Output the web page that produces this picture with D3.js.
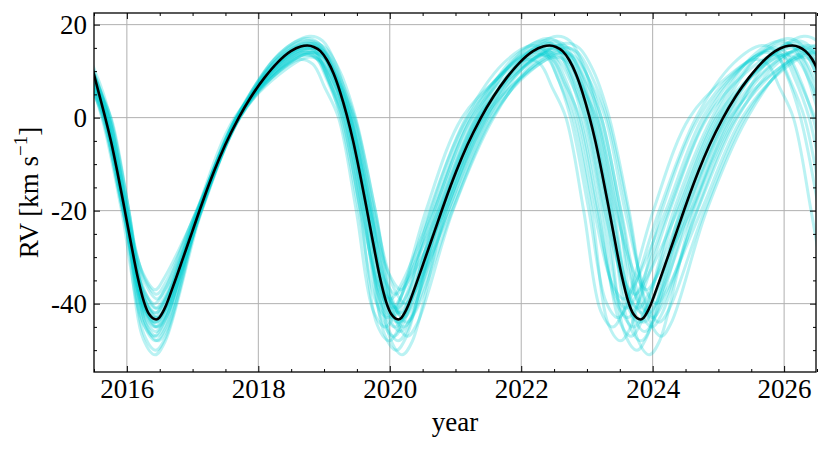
<!DOCTYPE html>
<html>
<head>
<meta charset="utf-8">
<script src="https://cdn.jsdelivr.net/npm/d3@7"></script>
<style>
  body { margin: 0; background: #fff; }
  text { font-family: "Liberation Serif", "Times New Roman", serif; }
</style>
</head>
<body>
<svg id="chart" width="830" height="450"></svg>
<script>
// tick labels
const xTicks = [2016, 2018, 2020, 2022, 2024, 2026];
const yTicks = [-40, -20, 0, 20];
const xLabel = 'year';

// best-fit orbit [year, RV km/s]
const bestFit = [
  [2015.46, 11.4], [2015.56, 6.0], [2015.66, 0.6], [2015.76, -5.2], [2015.86, -12.0], [2015.96, -19.3],
  [2016.06, -26.8], [2016.16, -34.0], [2016.26, -39.6], [2016.34, -42.3], [2016.445, -43.4],
  [2016.495, -43.0], [2016.545, -41.9], [2016.595, -40.4], [2016.695, -36.6], [2016.845, -30.6], [2016.995, -24.5],
  [2017.145, -18.4], [2017.325, -11.6], [2017.495, -5.9], [2017.695, -0.2], [2017.895, 4.6], [2018.095, 8.6],
  [2018.295, 11.9], [2018.495, 14.3], [2018.645, 15.3], [2018.745, 15.5],
  [2018.845, 15.2], [2018.945, 14.3], [2019.045, 12.4], [2019.145, 9.5], [2019.245, 5.5], [2019.345, 0.6],
  [2019.445, -5.2], [2019.545, -12.0], [2019.645, -19.3], [2019.745, -26.8], [2019.845, -34.0], [2019.945, -39.6],
  [2020.025, -42.3], [2020.13, -43.4],
  [2020.18, -43.0], [2020.23, -41.9], [2020.28, -40.4], [2020.38, -36.6], [2020.53, -30.6], [2020.68, -24.5],
  [2020.83, -18.4], [2021.01, -11.6], [2021.18, -5.9], [2021.38, -0.2], [2021.58, 4.6], [2021.78, 8.6],
  [2021.98, 11.9], [2022.18, 14.3], [2022.33, 15.3], [2022.43, 15.5],
  [2022.53, 15.2], [2022.63, 14.3], [2022.73, 12.4], [2022.83, 9.5], [2022.93, 5.5], [2023.03, 0.6],
  [2023.13, -5.2], [2023.23, -12.0], [2023.33, -19.3], [2023.43, -26.8], [2023.53, -34.0], [2023.63, -39.6],
  [2023.71, -42.3], [2023.815, -43.4],
  [2023.865, -43.0], [2023.915, -41.9], [2023.965, -40.4], [2024.065, -36.6], [2024.215, -30.6], [2024.365, -24.5],
  [2024.515, -18.4], [2024.695, -11.6], [2024.865, -5.9], [2025.065, -0.2], [2025.265, 4.6], [2025.465, 8.6],
  [2025.665, 11.9], [2025.865, 14.3], [2026.015, 15.3], [2026.125, 15.5],
  [2026.225, 15.2], [2026.325, 14.3], [2026.425, 12.6], [2026.525, 9.8]
];

// posterior draws (cyan), key points
const draw01 = [
  [2015.17, 12.5], [2015.37, 11.5], [2015.55, 6.5], [2015.76, 0], [2016.03, -20], [2016.29, -41.6], [2016.47, -45],
  [2016.62, -42.2], [2017.07, -20], [2017.64, 0], [2018.21, 8.7], [2018.63, 12.5],
  [2018.83, 11.5], [2019.01, 6.5], [2019.22, 0], [2019.49, -20], [2019.75, -41.6], [2019.93, -45],
  [2020.08, -42.2], [2020.55, -20], [2021.10, 0], [2021.67, 8.7], [2022.09, 12.5],
  [2022.29, 11.5], [2022.47, 6.5], [2022.68, 0], [2022.95, -20], [2023.21, -41.6], [2023.39, -45],
  [2023.54, -42.2], [2024.01, -20], [2024.56, 0], [2025.13, 8.7], [2025.55, 12.5],
  [2025.75, 11.5], [2025.93, 6.5], [2026.14, 0], [2026.41, -20], [2026.67, -41.6]
];
const draw02 = [
  [2015.15, 14], [2015.35, 13], [2015.53, 8], [2015.75, 0], [2016.03, -20], [2016.29, -44.6], [2016.47, -48],
  [2016.62, -45.2], [2017.12, -20], [2017.66, 0], [2018.24, 10.2], [2018.67, 14],
  [2018.87, 13], [2019.05, 8], [2019.27, 0], [2019.55, -20], [2019.81, -44.6], [2019.99, -48],
  [2020.14, -45.2], [2020.62, -20], [2021.18, 0], [2021.76, 10.2], [2022.19, 14],
  [2022.39, 13], [2022.57, 8], [2022.79, 0], [2023.07, -20], [2023.33, -44.6], [2023.51, -48],
  [2023.66, -45.2], [2024.14, -20], [2024.70, 0], [2025.28, 10.2], [2025.71, 14],
  [2025.91, 13], [2026.09, 8], [2026.31, 0], [2026.59, -20]
];
const draw03 = [
  [2015.12, 15], [2015.32, 14], [2015.51, 9], [2015.73, 0], [2016.01, -20], [2016.28, -37.6], [2016.46, -41],
  [2016.61, -38.2], [2017.08, -20], [2017.67, 0], [2018.25, 11.2], [2018.69, 15],
  [2018.89, 14], [2019.08, 9], [2019.30, 0], [2019.58, -20], [2019.85, -37.6], [2020.03, -41],
  [2020.18, -38.2], [2020.67, -20], [2021.24, 0], [2021.82, 11.2], [2022.26, 15],
  [2022.46, 14], [2022.65, 9], [2022.87, 0], [2023.15, -20], [2023.42, -37.6], [2023.60, -41],
  [2023.75, -38.2], [2024.24, -20], [2024.81, 0], [2025.39, 11.2], [2025.83, 15],
  [2026.03, 14], [2026.22, 9], [2026.44, 0], [2026.72, -20]
];
const draw04 = [
  [2015.09, 16.5], [2015.29, 15.5], [2015.48, 10.5], [2015.71, 0], [2015.99, -20], [2016.27, -43.6], [2016.45, -47],
  [2016.60, -44.2], [2017.13, -20], [2017.68, 0], [2018.26, 12.7], [2018.70, 16.5],
  [2018.90, 15.5], [2019.09, 10.5], [2019.32, 0], [2019.60, -20], [2019.88, -43.6], [2020.06, -47],
  [2020.21, -44.2], [2020.71, -20], [2021.29, 0], [2021.87, 12.7], [2022.31, 16.5],
  [2022.51, 15.5], [2022.70, 10.5], [2022.93, 0], [2023.21, -20], [2023.49, -43.6], [2023.67, -47],
  [2023.82, -44.2], [2024.32, -20], [2024.90, 0], [2025.48, 12.7], [2025.92, 16.5],
  [2026.12, 15.5], [2026.31, 10.5], [2026.54, 0]
];
const draw05 = [
  [2015.08, 13.5], [2015.28, 12.5], [2015.48, 7.5], [2015.70, 0], [2015.99, -20], [2016.27, -34.6], [2016.45, -38],
  [2016.60, -35.2], [2017.06, -20], [2017.69, 0], [2018.28, 9.7], [2018.72, 13.5],
  [2018.92, 12.5], [2019.12, 7.5], [2019.34, 0], [2019.63, -20], [2019.91, -34.6], [2020.09, -38],
  [2020.24, -35.2], [2020.74, -20], [2021.33, 0], [2021.92, 9.7], [2022.36, 13.5],
  [2022.56, 12.5], [2022.76, 7.5], [2022.98, 0], [2023.27, -20], [2023.55, -34.6], [2023.73, -38],
  [2023.88, -35.2], [2024.38, -20], [2024.97, 0], [2025.56, 9.7], [2026.00, 13.5],
  [2026.20, 12.5], [2026.40, 7.5], [2026.62, 0]
];
const draw06 = [
  [2015.06, 17], [2015.26, 16], [2015.46, 11], [2015.69, 0], [2015.98, -20], [2016.26, -46.6], [2016.44, -50],
  [2016.59, -47.2], [2017.12, -20], [2017.68, 0], [2018.28, 13.2], [2018.72, 17],
  [2018.92, 16], [2019.12, 11], [2019.35, 0], [2019.64, -20], [2019.92, -46.6], [2020.10, -50],
  [2020.25, -47.2], [2020.76, -20], [2021.34, 0], [2021.94, 13.2], [2022.38, 17],
  [2022.58, 16], [2022.78, 11], [2023.01, 0], [2023.30, -20], [2023.58, -46.6], [2023.76, -50],
  [2023.91, -47.2], [2024.42, -20], [2025.00, 0], [2025.60, 13.2], [2026.04, 17],
  [2026.24, 16], [2026.44, 11], [2026.67, 0]
];
const draw07 = [
  [2015.06, 15], [2015.26, 14], [2015.46, 9], [2015.69, 0], [2015.98, -20], [2016.26, -40.6], [2016.44, -44],
  [2016.59, -41.2], [2017.09, -20], [2017.69, 0], [2018.29, 11.2], [2018.74, 15],
  [2018.94, 14], [2019.14, 9], [2019.37, 0], [2019.66, -20], [2019.94, -40.6], [2020.12, -44],
  [2020.27, -41.2], [2020.78, -20], [2021.37, 0], [2021.97, 11.2], [2022.42, 15],
  [2022.62, 14], [2022.82, 9], [2023.05, 0], [2023.34, -20], [2023.62, -40.6], [2023.80, -44],
  [2023.95, -41.2], [2024.46, -20], [2025.05, 0], [2025.65, 11.2], [2026.10, 15],
  [2026.30, 14], [2026.50, 9]
];
const draw08 = [
  [2015.05, 16], [2015.25, 15], [2015.45, 10], [2015.68, 0], [2015.97, -20], [2016.26, -38.6], [2016.44, -42],
  [2016.59, -39.2], [2017.11, -20], [2017.70, 0], [2018.30, 12.2], [2018.75, 16],
  [2018.95, 15], [2019.15, 10], [2019.38, 0], [2019.67, -20], [2019.96, -38.6], [2020.14, -42],
  [2020.29, -39.2], [2020.80, -20], [2021.40, 0], [2022.00, 12.2], [2022.45, 16],
  [2022.65, 15], [2022.85, 10], [2023.08, 0], [2023.37, -20], [2023.66, -38.6], [2023.84, -42],
  [2023.99, -39.2], [2024.50, -20], [2025.10, 0], [2025.70, 12.2], [2026.15, 16],
  [2026.35, 15], [2026.55, 10]
];
const draw09 = [
  [2015.04, 14.5], [2015.24, 13.5], [2015.45, 8.5], [2015.68, 0], [2015.97, -20], [2016.26, -42.6], [2016.44, -46],
  [2016.59, -43.2], [2017.13, -20], [2017.70, 0], [2018.31, 10.7], [2018.76, 14.5],
  [2018.96, 13.5], [2019.17, 8.5], [2019.40, 0], [2019.69, -20], [2019.98, -42.6], [2020.16, -46],
  [2020.31, -43.2], [2020.83, -20], [2021.42, 0], [2022.03, 10.7], [2022.48, 14.5],
  [2022.68, 13.5], [2022.89, 8.5], [2023.12, 0], [2023.41, -20], [2023.70, -42.6], [2023.88, -46],
  [2024.03, -43.2], [2024.55, -20], [2025.14, 0], [2025.75, 10.7], [2026.20, 14.5],
  [2026.40, 13.5], [2026.61, 8.5]
];
const draw10 = [
  [2015.02, 13], [2015.22, 12], [2015.43, 7], [2015.66, 0], [2015.96, -20], [2016.25, -33.6], [2016.43, -37],
  [2016.58, -34.2], [2017.07, -20], [2017.70, 0], [2018.31, 9.2], [2018.76, 13],
  [2018.96, 12], [2019.17, 7], [2019.40, 0], [2019.70, -20], [2019.99, -33.6], [2020.17, -37],
  [2020.32, -34.2], [2020.84, -20], [2021.44, 0], [2022.05, 9.2], [2022.50, 13],
  [2022.70, 12], [2022.91, 7], [2023.14, 0], [2023.44, -20], [2023.73, -33.6], [2023.91, -37],
  [2024.06, -34.2], [2024.58, -20], [2025.18, 0], [2025.79, 9.2], [2026.24, 13],
  [2026.44, 12], [2026.65, 7]
];
const draw11 = [
  [2015.02, 17.5], [2015.22, 16.5], [2015.42, 11.5], [2015.66, 0], [2015.96, -20], [2016.25, -47.6], [2016.43, -51],
  [2016.58, -48.2], [2017.14, -20], [2017.71, 0], [2018.32, 13.7], [2018.78, 17.5],
  [2018.98, 16.5], [2019.18, 11.5], [2019.42, 0], [2019.72, -20], [2020.01, -47.6], [2020.19, -51],
  [2020.34, -48.2], [2020.86, -20], [2021.47, 0], [2022.08, 13.7], [2022.54, 17.5],
  [2022.74, 16.5], [2022.94, 11.5], [2023.18, 0], [2023.48, -20], [2023.77, -47.6], [2023.95, -51],
  [2024.10, -48.2], [2024.62, -20], [2025.23, 0], [2025.84, 13.7], [2026.30, 17.5],
  [2026.50, 16.5], [2026.70, 11.5]
];
const draw12 = [
  [2015.00, 15.5], [2015.20, 14.5], [2015.41, 9.5], [2015.64, 0], [2015.94, -20], [2016.24, -39.6], [2016.42, -43],
  [2016.57, -40.2], [2017.09, -20], [2017.71, 0], [2018.32, 11.7], [2018.78, 15.5],
  [2018.99, 14.5], [2019.20, 9.5], [2019.43, 0], [2019.73, -20], [2020.03, -39.6], [2020.21, -43],
  [2020.36, -40.2], [2020.89, -20], [2021.50, 0], [2022.11, 11.7], [2022.57, 15.5],
  [2022.78, 14.5], [2022.99, 9.5], [2023.22, 0], [2023.52, -20], [2023.82, -39.6], [2024.00, -43],
  [2024.15, -40.2], [2024.68, -20], [2025.29, 0], [2025.90, 11.7], [2026.36, 15.5],
  [2026.58, 14.5]
];
const draw13 = [
  [2014.98, 14], [2015.18, 13], [2015.40, 8], [2015.64, 0], [2015.94, -20], [2016.24, -36.6], [2016.42, -40],
  [2016.57, -37.2], [2017.06, -20], [2017.72, 0], [2018.34, 10.2], [2018.81, 14],
  [2019.00, 13], [2019.22, 8], [2019.46, 0], [2019.76, -20], [2020.06, -36.6], [2020.24, -40],
  [2020.39, -37.2], [2020.92, -20], [2021.54, 0], [2022.16, 10.2], [2022.63, 14],
  [2022.82, 13], [2023.04, 8], [2023.28, 0], [2023.58, -20], [2023.88, -36.6], [2024.06, -40],
  [2024.21, -37.2], [2024.74, -20], [2025.36, 0], [2025.98, 10.2], [2026.45, 14],
  [2026.64, 13]
];
const draw14 = [
  [2014.96, 16], [2015.16, 15], [2015.38, 10], [2015.62, 0], [2015.92, -20], [2016.23, -43.6], [2016.41, -47],
  [2016.56, -44.2], [2017.12, -20], [2017.72, 0], [2018.35, 12.2], [2018.82, 16],
  [2019.02, 15], [2019.24, 10], [2019.48, 0], [2019.78, -20], [2020.09, -43.6], [2020.27, -47],
  [2020.42, -44.2], [2020.96, -20], [2021.58, 0], [2022.21, 12.2], [2022.68, 16],
  [2022.88, 15], [2023.10, 10], [2023.34, 0], [2023.64, -20], [2023.95, -43.6], [2024.13, -47],
  [2024.28, -44.2], [2024.82, -20], [2025.44, 0], [2026.07, 12.2], [2026.54, 16]
];
const draw15 = [
  [2015.15, 15.5], [2015.35, 14.5], [2015.53, 9.5], [2015.75, 0], [2016.03, -20], [2016.29, -39.6], [2016.47, -43],
  [2016.62, -40.2], [2017.08, -20], [2017.66, 0], [2018.23, 11.7], [2018.66, 15.5],
  [2018.85, 14.5], [2019.03, 9.5], [2019.25, 0], [2019.53, -20], [2019.79, -39.6], [2019.97, -43],
  [2020.12, -40.2], [2020.60, -20], [2021.16, 0], [2021.73, 11.7], [2022.16, 15.5],
  [2022.35, 14.5], [2022.53, 9.5], [2022.75, 0], [2023.03, -20], [2023.29, -39.6], [2023.47, -43],
  [2023.62, -40.2], [2024.10, -20], [2024.66, 0], [2025.23, 11.7], [2025.66, 15.5],
  [2025.85, 14.5], [2026.03, 9.5], [2026.25, 0], [2026.53, -20]
];
const draw16 = [
  [2015.13, 14.5], [2015.33, 13.5], [2015.51, 8.5], [2015.73, 0], [2016.01, -20], [2016.28, -35.6], [2016.46, -39],
  [2016.61, -36.2], [2017.11, -20], [2017.66, 0], [2018.24, 10.7], [2018.67, 14.5],
  [2018.88, 13.5], [2019.06, 8.5], [2019.28, 0], [2019.56, -20], [2019.83, -35.6], [2020.01, -39],
  [2020.16, -36.2], [2020.65, -20], [2021.21, 0], [2021.79, 10.7], [2022.22, 14.5],
  [2022.43, 13.5], [2022.61, 8.5], [2022.83, 0], [2023.11, -20], [2023.38, -35.6], [2023.56, -39],
  [2023.71, -36.2], [2024.20, -20], [2024.76, 0], [2025.34, 10.7], [2025.77, 14.5],
  [2025.98, 13.5], [2026.16, 8.5], [2026.38, 0], [2026.66, -20]
];
const draw17 = [
  [2015.09, 16], [2015.29, 15], [2015.48, 10], [2015.71, 0], [2015.99, -20], [2016.27, -41.6], [2016.45, -45],
  [2016.60, -42.2], [2017.13, -20], [2017.68, 0], [2018.27, 12.2], [2018.72, 16],
  [2018.92, 15], [2019.11, 10], [2019.34, 0], [2019.62, -20], [2019.90, -41.6], [2020.08, -45],
  [2020.23, -42.2], [2020.73, -20], [2021.31, 0], [2021.90, 12.2], [2022.35, 16],
  [2022.55, 15], [2022.74, 10], [2022.97, 0], [2023.25, -20], [2023.53, -41.6], [2023.71, -45],
  [2023.86, -42.2], [2024.36, -20], [2024.94, 0], [2025.53, 12.2], [2025.98, 16],
  [2026.18, 15], [2026.37, 10], [2026.60, 0]
];
const draw18 = [
  [2015.06, 14], [2015.26, 13], [2015.46, 8], [2015.69, 0], [2015.98, -20], [2016.26, -37.6], [2016.44, -41],
  [2016.59, -38.2], [2017.07, -20], [2017.69, 0], [2018.28, 10.2], [2018.73, 14],
  [2018.93, 13], [2019.13, 8], [2019.36, 0], [2019.65, -20], [2019.93, -37.6], [2020.11, -41],
  [2020.26, -38.2], [2020.77, -20], [2021.36, 0], [2021.95, 10.2], [2022.40, 14],
  [2022.60, 13], [2022.80, 8], [2023.03, 0], [2023.32, -20], [2023.60, -37.6], [2023.78, -41],
  [2023.93, -38.2], [2024.44, -20], [2025.03, 0], [2025.62, 10.2], [2026.07, 14],
  [2026.27, 13], [2026.47, 8], [2026.70, 0]
];
const draw19 = [
  [2015.05, 15.5], [2015.25, 14.5], [2015.45, 9.5], [2015.68, 0], [2015.97, -20], [2016.26, -44.6], [2016.44, -48],
  [2016.59, -45.2], [2017.10, -20], [2017.69, 0], [2018.29, 11.7], [2018.74, 15.5],
  [2018.94, 14.5], [2019.14, 9.5], [2019.37, 0], [2019.66, -20], [2019.95, -44.6], [2020.13, -48],
  [2020.28, -45.2], [2020.79, -20], [2021.38, 0], [2021.98, 11.7], [2022.43, 15.5],
  [2022.63, 14.5], [2022.83, 9.5], [2023.06, 0], [2023.35, -20], [2023.64, -44.6], [2023.82, -48],
  [2023.97, -45.2], [2024.48, -20], [2025.07, 0], [2025.67, 11.7], [2026.12, 15.5],
  [2026.32, 14.5], [2026.52, 9.5]
];
const draw20 = [
  [2015.05, 16.5], [2015.25, 15.5], [2015.45, 10.5], [2015.68, 0], [2015.97, -20], [2016.26, -40.6], [2016.44, -44],
  [2016.59, -41.2], [2017.12, -20], [2017.70, 0], [2018.30, 12.7], [2018.76, 16.5],
  [2018.96, 15.5], [2019.16, 10.5], [2019.39, 0], [2019.68, -20], [2019.97, -40.6], [2020.15, -44],
  [2020.30, -41.2], [2020.81, -20], [2021.41, 0], [2022.01, 12.7], [2022.47, 16.5],
  [2022.67, 15.5], [2022.87, 10.5], [2023.10, 0], [2023.39, -20], [2023.68, -40.6], [2023.86, -44],
  [2024.01, -41.2], [2024.52, -20], [2025.12, 0], [2025.72, 12.7], [2026.18, 16.5],
  [2026.38, 15.5], [2026.58, 10.5]
];
const draw21 = [
  [2015.02, 15], [2015.22, 14], [2015.43, 9], [2015.66, 0], [2015.96, -20], [2016.25, -38.6], [2016.43, -42],
  [2016.58, -39.2], [2017.08, -20], [2017.70, 0], [2018.31, 11.2], [2018.77, 15],
  [2018.97, 14], [2019.18, 9], [2019.41, 0], [2019.71, -20], [2020.00, -38.6], [2020.18, -42],
  [2020.33, -39.2], [2020.85, -20], [2021.45, 0], [2022.06, 11.2], [2022.52, 15],
  [2022.72, 14], [2022.93, 9], [2023.16, 0], [2023.46, -20], [2023.75, -38.6], [2023.93, -42],
  [2024.08, -39.2], [2024.60, -20], [2025.20, 0], [2025.81, 11.2], [2026.27, 15],
  [2026.47, 14], [2026.68, 9]
];
const draw22 = [
  [2015.01, 14], [2015.21, 13], [2015.42, 8], [2015.66, 0], [2015.95, -20], [2016.25, -41.6], [2016.43, -45],
  [2016.58, -42.2], [2017.14, -20], [2017.71, 0], [2018.33, 10.2], [2018.79, 14],
  [2018.99, 13], [2019.20, 8], [2019.44, 0], [2019.73, -20], [2020.03, -41.6], [2020.21, -45],
  [2020.36, -42.2], [2020.89, -20], [2021.49, 0], [2022.11, 10.2], [2022.57, 14],
  [2022.77, 13], [2022.98, 8], [2023.22, 0], [2023.51, -20], [2023.81, -41.6], [2023.99, -45],
  [2024.14, -42.2], [2024.67, -20], [2025.27, 0], [2025.89, 10.2], [2026.35, 14],
  [2026.55, 13]
];
const draw23 = [
  [2014.98, 15], [2015.18, 14], [2015.39, 9], [2015.63, 0], [2015.94, -20], [2016.24, -40.6], [2016.42, -44],
  [2016.57, -41.2], [2017.11, -20], [2017.72, 0], [2018.35, 11.2], [2018.82, 15],
  [2019.02, 14], [2019.23, 9], [2019.47, 0], [2019.78, -20], [2020.08, -40.6], [2020.26, -44],
  [2020.41, -41.2], [2020.95, -20], [2021.56, 0], [2022.19, 11.2], [2022.66, 15],
  [2022.86, 14], [2023.07, 9], [2023.31, 0], [2023.62, -20], [2023.92, -40.6], [2024.10, -44],
  [2024.25, -41.2], [2024.79, -20], [2025.40, 0], [2026.03, 11.2], [2026.50, 15]
];
const draw24 = [
  [2015.12, 13.5], [2015.32, 12.5], [2015.50, 7.5], [2015.73, 0], [2016.01, -20], [2016.28, -39.6], [2016.46, -43],
  [2016.61, -40.2], [2017.09, -20], [2017.67, 0], [2018.26, 9.7], [2018.69, 13.5],
  [2018.90, 12.5], [2019.08, 7.5], [2019.31, 0], [2019.59, -20], [2019.86, -39.6], [2020.04, -43],
  [2020.19, -40.2], [2020.68, -20], [2021.25, 0], [2021.84, 9.7], [2022.27, 13.5],
  [2022.48, 12.5], [2022.66, 7.5], [2022.89, 0], [2023.17, -20], [2023.44, -39.6], [2023.62, -43],
  [2023.77, -40.2], [2024.26, -20], [2024.83, 0], [2025.42, 9.7], [2025.85, 13.5],
  [2026.06, 12.5], [2026.24, 7.5], [2026.47, 0]
];
const posteriorDraws = [draw01, draw02, draw03, draw04, draw05, draw06, draw07, draw08,
  draw09, draw10, draw11, draw12, draw13, draw14, draw15, draw16, draw17, draw18,
  draw19, draw20, draw21, draw22, draw23, draw24];

const width = 830, height = 450;
const margin = {top: 13, right: 14, bottom: 78, left: 94};
const innerW = width - margin.left - margin.right;
const innerH = height - margin.top - margin.bottom;

const svg = d3.select('#chart');

const x = d3.scaleLinear([2015.5, 2026.485], [0, innerW]);
const y = d3.scaleLinear([-54.7, 22.5], [innerH, 0]);

const g = svg.append('g')
  .attr('transform', `translate(${margin.left},${margin.top})`);

g.append('clipPath').attr('id', 'plot-clip')
  .append('rect').attr('width', innerW).attr('height', innerH);

// grid
const grid = g.append('g').attr('class', 'grid');
grid.selectAll('line.gx')
  .data(xTicks)
  .join('line')
  .attr('class', 'gx')
  .attr('x1', d => x(d)).attr('x2', d => x(d))
  .attr('y1', 0).attr('y2', innerH)
  .attr('stroke', '#b0b0b0').attr('stroke-width', 1);
grid.selectAll('line.gy')
  .data(yTicks)
  .join('line')
  .attr('class', 'gy')
  .attr('x1', 0).attr('x2', innerW)
  .attr('y1', d => y(d)).attr('y2', d => y(d))
  .attr('stroke', '#b0b0b0').attr('stroke-width', 1);

const curves = g.append('g').attr('clip-path', 'url(#plot-clip)');

// posterior draws
const drawLine = d3.line()
  .x(d => x(d[0]))
  .y(d => y(d[1]))
  .curve(d3.curveCatmullRom.alpha(0.5));

curves.selectAll('path.draw')
  .data(posteriorDraws)
  .join('path')
  .attr('class', 'draw')
  .attr('d', drawLine)
  .attr('fill', 'none')
  .attr('stroke', '#00ced1')
  .attr('stroke-opacity', 0.27)
  .attr('stroke-width', 3);

// best fit
const fitLine = d3.line()
  .x(d => x(d[0]))
  .y(d => y(d[1]))
  .curve(d3.curveMonotoneX);

curves.append('path')
  .datum(bestFit)
  .attr('d', fitLine)
  .attr('fill', 'none')
  .attr('stroke', '#000')
  .attr('stroke-width', 2.6);

// axes, ticks pointing inward on all four sides
const xMinor = d3.range(2015.5, 2026.6, 0.5).filter(v => !xTicks.includes(v));
const yMinor = d3.range(-50, 21, 5).filter(v => !yTicks.includes(v));
const fmt = d => String(d);

function styleAxis(sel) {
  sel.attr('font-family', null).attr('font-size', null);
  sel.select('.domain').remove();
  sel.selectAll('.tick line').attr('stroke', '#000').attr('stroke-width', 1);
  sel.selectAll('.tick text')
    .attr('fill', '#000')
    .style('font-size', '27px');
}

g.append('g').attr('transform', `translate(0,${innerH})`)
  .call(d3.axisBottom(x).tickValues(xTicks).tickFormat(fmt).tickSizeInner(-6).tickSizeOuter(0).tickPadding(7))
  .call(styleAxis);
g.append('g').attr('transform', `translate(0,${innerH})`)
  .call(d3.axisBottom(x).tickValues(xMinor).tickFormat('').tickSizeInner(-3).tickSizeOuter(0))
  .call(styleAxis);
g.append('g')
  .call(d3.axisTop(x).tickValues(xTicks).tickFormat('').tickSizeInner(-6).tickSizeOuter(0))
  .call(styleAxis);
g.append('g')
  .call(d3.axisTop(x).tickValues(xMinor).tickFormat('').tickSizeInner(-3).tickSizeOuter(0))
  .call(styleAxis);

g.append('g')
  .call(d3.axisLeft(y).tickValues(yTicks).tickFormat(fmt).tickSizeInner(-6).tickSizeOuter(0).tickPadding(7))
  .call(styleAxis);
g.append('g')
  .call(d3.axisLeft(y).tickValues(yMinor).tickFormat('').tickSizeInner(-3).tickSizeOuter(0))
  .call(styleAxis);
g.append('g').attr('transform', `translate(${innerW},0)`)
  .call(d3.axisRight(y).tickValues(yTicks).tickFormat('').tickSizeInner(-6).tickSizeOuter(0))
  .call(styleAxis);
g.append('g').attr('transform', `translate(${innerW},0)`)
  .call(d3.axisRight(y).tickValues(yMinor).tickFormat('').tickSizeInner(-3).tickSizeOuter(0))
  .call(styleAxis);

// frame
g.append('rect')
  .attr('width', innerW).attr('height', innerH)
  .attr('fill', 'none').attr('stroke', '#000').attr('stroke-width', 1.3);

// axis labels
svg.append('text')
  .attr('x', margin.left + innerW / 2)
  .attr('y', 431)
  .attr('text-anchor', 'middle')
  .style('font-size', '27px')
  .text(xLabel);

const yl = svg.append('text')
  .attr('transform', `translate(38,${margin.top + innerH / 2}) rotate(-90)`)
  .attr('text-anchor', 'middle')
  .style('font-size', '27px');
yl.append('tspan').text('RV [km s');
yl.append('tspan').attr('dy', -11).style('font-size', '19px').text('\u22121');
yl.append('tspan').attr('dy', 11).text(']');
</script>
</body>
</html>
